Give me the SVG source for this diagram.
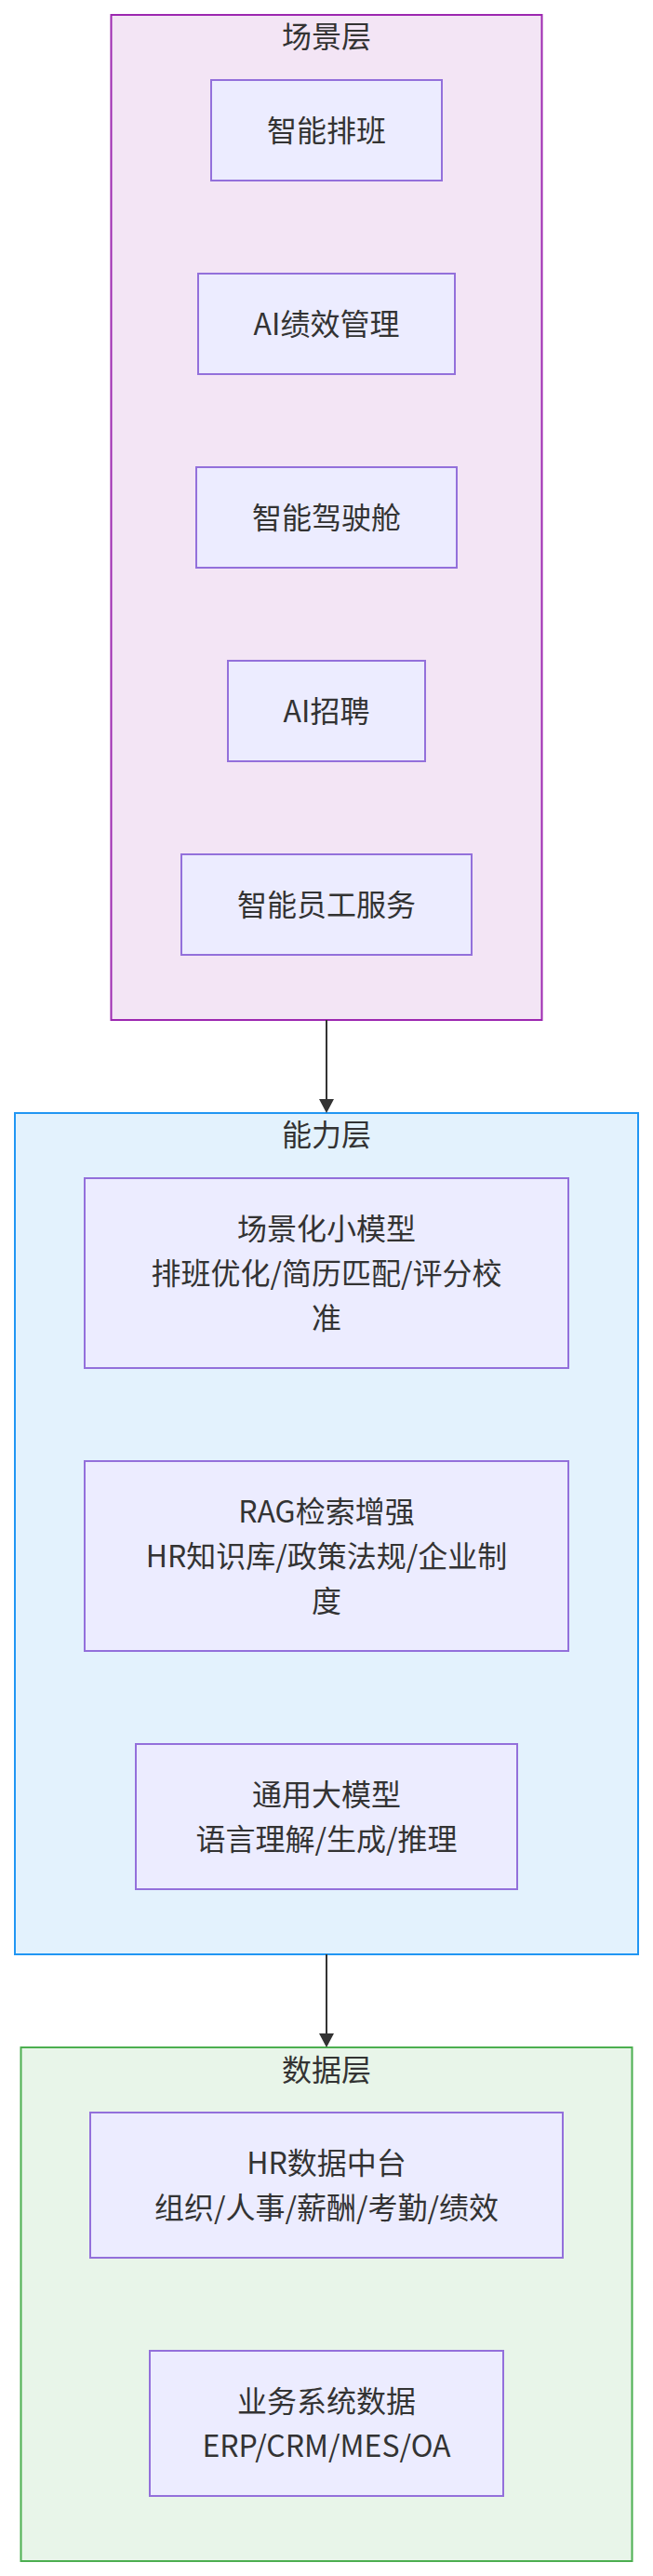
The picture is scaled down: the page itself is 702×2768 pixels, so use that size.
<svg xmlns="http://www.w3.org/2000/svg" width="702" height="2768" viewBox="0 0 702 2768">
<defs>
<style>
.cl1{fill:#f3e5f5;stroke:#9c27b0;stroke-width:2}
.cl2{fill:#e3f2fd;stroke:#2196f3;stroke-width:2}
.cl3{fill:#e8f5e9;stroke:#4caf50;stroke-width:2}
.node rect{fill:#ECECFF;stroke:#9370DB;stroke-width:2}
text{font-family:"Noto Sans CJK SC","Noto Sans",sans-serif;font-size:32px;fill:#333;text-anchor:middle}
.edge{stroke:#333;stroke-width:2;fill:none}
</style>
<marker id="arrow" viewBox="0 0 10 10" refX="0" refY="5" markerUnits="userSpaceOnUse" markerWidth="15" markerHeight="16" preserveAspectRatio="none" orient="auto">
<path d="M0,0 L10,5 L0,10 z" fill="#333"/>
</marker>
</defs>
<rect width="702" height="2768" fill="#ffffff"/>
<g id="cluster-scene">
<rect class="cl1" x="119.5" y="16" width="463" height="1080"/>
<text x="351" y="51">场景层</text>
</g>
<g id="cluster-ability">
<rect class="cl2" x="16" y="1196" width="670" height="904"/>
<text x="351" y="1231">能力层</text>
</g>
<g id="cluster-data">
<rect class="cl3" x="22.5" y="2200" width="657" height="552"/>
<text x="351" y="2235.5">数据层</text>
</g>
<g id="connectors">
<line class="edge" x1="351" y1="1096" x2="351" y2="1181" marker-end="url(#arrow)"/>
<line class="edge" x1="351" y1="2100" x2="351" y2="2185" marker-end="url(#arrow)"/>
</g>
<g id="n-paiban" class="node">
<rect x="227" y="86" width="248" height="108"/>
<text x="351" y="152">智能排班</text>
</g>
<g id="n-jixiao" class="node">
<rect x="213" y="294" width="276" height="108"/>
<text x="351" y="360">AI绩效管理</text>
</g>
<g id="n-jiashicang" class="node">
<rect x="211" y="502" width="280" height="108"/>
<text x="351" y="568">智能驾驶舱</text>
</g>
<g id="n-zhaopin" class="node">
<rect x="245" y="710" width="212" height="108"/>
<text x="351" y="776">AI招聘</text>
</g>
<g id="n-yuangong" class="node">
<rect x="195" y="918" width="312" height="108"/>
<text x="351" y="984">智能员工服务</text>
</g>
<g id="n-xiaomoxing" class="node">
<rect x="91" y="1266" width="520" height="204"/>
<text x="351" y="1332">场景化小模型</text>
<text x="351" y="1380">排班优化/简历匹配/评分校</text>
<text x="351" y="1428">准</text>
</g>
<g id="n-rag" class="node">
<rect x="91" y="1570" width="520" height="204"/>
<text x="351" y="1636">RAG检索增强</text>
<text x="351" y="1684">HR知识库/政策法规/企业制</text>
<text x="351" y="1732">度</text>
</g>
<g id="n-llm" class="node">
<rect x="146" y="1874" width="410" height="156"/>
<text x="351" y="1940">通用大模型</text>
<text x="351" y="1988">语言理解/生成/推理</text>
</g>
<g id="n-hrdata" class="node">
<rect x="97" y="2270" width="508" height="156"/>
<text x="351" y="2336">HR数据中台</text>
<text x="351" y="2384">组织/人事/薪酬/考勤/绩效</text>
</g>
<g id="n-bizdata" class="node">
<rect x="161" y="2526" width="380" height="156"/>
<text x="351" y="2592">业务系统数据</text>
<text x="351" y="2640">ERP/CRM/MES/OA</text>
</g>
</svg>
